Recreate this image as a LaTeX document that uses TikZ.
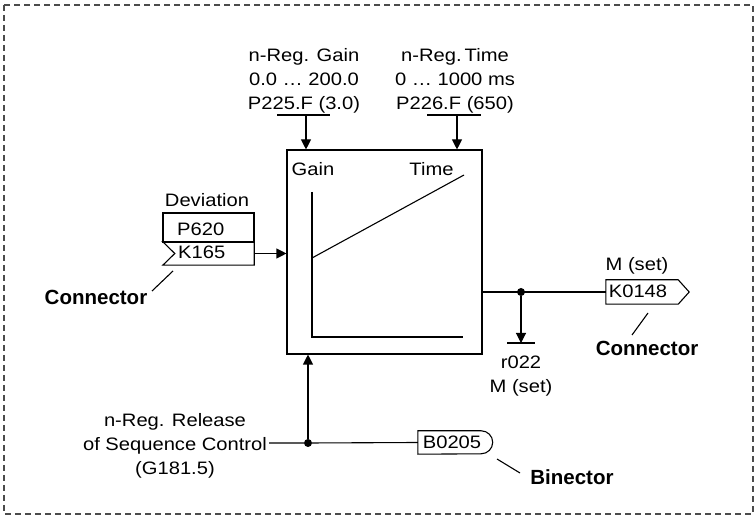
\documentclass[tikz,border=0pt]{standalone}
\usepackage{fontspec}
\setmainfont{Liberation Sans}[FakeStretch=1.12]
\newfontfamily\lblfont{Liberation Sans}
\usetikzlibrary{arrows.meta}
\begin{document}
\begin{tikzpicture}[x=1pt,y=-1pt,
  every node/.style={font=\fontsize{18}{24}\selectfont, inner sep=0pt, anchor=base},
  ln/.style={line width=1.1pt},
  arr/.style={ln,-{Triangle[length=10pt,width=10pt]}},
  lbl/.style={font=\lblfont\fontsize{20.5}{24}\selectfont\bfseries},
  dot/.style={circle, fill, minimum size=8pt, inner sep=0pt, anchor=center},
  shp/.style={anchor=center}]
\useasboundingbox (0,0) rectangle (756,518);
\draw[line width=1.2pt, color=black!70, dash pattern=on 6pt off 4pt] (4,5) rectangle (753,514);

% main block
\node[draw, ln, shp, minimum width=195pt, minimum height=204pt] (blk) at (384.5,252) {};
\node (gain) at (313,175.5) {Gain};
\node (time) at (431.5,175.5) {Time};
\coordinate (ax0) at (312,337);
\draw[ln] (312,192) -- (ax0) -- (463,337);
\draw[ln] (312,258) -- (464,175);

% top parameter inputs
\node[align=center] (ptg) at (304,110) {n-Reg. Gain\\0.0 \dots\ 200.0\\P225.F (3.0)};
\node[align=center] (ptt) at (455,110) {n-Reg.\,Time\\0 \dots\ 1000 ms\\P226.F (650)};
\coordinate (g) at (306,115);
\coordinate (t) at (457,115);
\draw[ln] (277,115) -- (330,115);
\draw[ln] (427,115) -- (481,115);
\draw[arr] (g) -- (g |- blk.north);
\draw[arr] (t) -- (t |- blk.north);

% deviation input
\node (dev) at (207,206.5) {Deviation};
\node[draw, ln, shp, minimum width=91pt, minimum height=29pt] (p620) at (208.5,227.5) {};
\node[anchor=base west] at (177,236) {P620};
\node[shp, minimum width=91pt, minimum height=23pt] (k165) at (208.5,253.5) {};
\draw[ln] (k165.north west) -- (k165.north east) -- (k165.south east) -- (k165.south west) -- ([xshift=12pt]k165.west) -- cycle;
\node[anchor=base west] at (178,259) {K165};
\draw[arr] (k165.east) -- (k165.east -| blk.west);
\node[lbl] (con1) at (96,304.5) {Connector};
\coordinate (c1a) at (152,291);
\coordinate (c1b) at (173,271);
\draw[ln] (c1a) -- (c1b);

% output
\node[shp, minimum width=83pt, minimum height=24pt] (k148) at (647.5,292) {};
\draw[ln] (k148.north west) -- ([xshift=-11pt]k148.north east) -- (k148.east) -- ([xshift=-11pt]k148.south east) -- (k148.south west) -- cycle;
\node at (638,298) {K0148};
\node (mset1) at (637,271) {M (set)};
\node[dot] (d1) at (521,292) {};
\draw[ln] (blk.east |- k148.west) -- (k148.west);
\coordinate (r) at (521,343);
\draw[arr] (d1) -- (r);
\draw[ln] (507,343) -- (535,343);
\node[align=center] (r022) at (521,393) {r022\\M (set)};
\node[lbl] (con2) at (647,356) {Connector};
\draw[ln] (648,313) -- (632,335);

% release input
\node[align=center] (rel) at (175,475) {n-Reg. Release\\of Sequence Control\\(G181.5)};
\node[dot] (d2) at (308,443) {};
\node[shp, minimum width=75pt, minimum height=23pt] (b205) at (455.5,442.5) {};
\draw[ln] (b205.north west) -- ([xshift=-12pt]b205.north east) arc[start angle=90, end angle=-90, radius=11.5pt] -- (b205.south west) -- cycle;
\node at (452,449) {B0205};
\draw[ln] (269,443) -- (d2) -- (b205.west);
\draw[arr] (d2) -- (d2 |- blk.south);
\draw[ln] (497,459) -- (520,473);
\node[lbl] (bin) at (572,485) {Binector};
\end{tikzpicture}
\end{document}
